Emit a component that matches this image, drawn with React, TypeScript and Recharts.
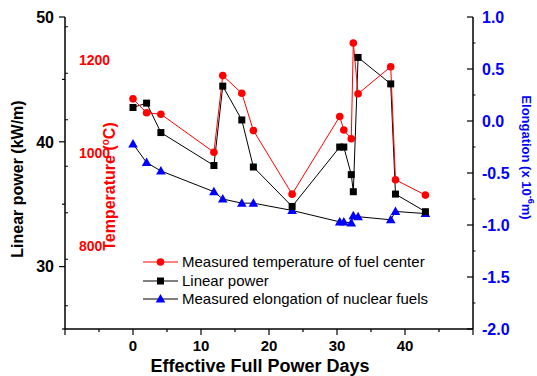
import React from 'react';
import { LineChart, Line, XAxis, YAxis } from 'recharts';

const days = [0, 2, 4.1, 11.9, 13.2, 16, 17.7, 23.4, 30.4, 31, 32.1, 32.4, 33.1, 37.9, 38.6, 43];
const temperature = [1145, 1115, 1112, 1030, 1195, 1157, 1077, 940, 1107, 1078, 1059, 1265, 1156, 1214, 971, 938];
const linearPower = [42.75, 43.1, 40.74, 38.1, 44.46, 41.75, 37.98, 34.82, 39.58, 39.58, 37.37, 36.0, 46.76, 44.64, 35.81, 34.4];
const elongation = [-0.22, -0.4, -0.48, -0.68, -0.75, -0.79, -0.79, -0.86, -0.97, -0.97, -0.98, -0.91, -0.92, -0.95, -0.87, -0.89];

const xTicks = [-10, -5, 0, 5, 10, 15, 20, 25, 30, 35, 40, 45, 50];
const xLabeled = [0, 10, 20, 30, 40];
const xMajor = [-10, 0, 10, 20, 30, 40, 50];
const powerTicks = [25, 30, 35, 40, 45, 50];
const powerLabeled = [30, 40, 50];
const tempTicks = [700, 800, 900, 1000, 1100, 1200, 1300];
const tempLabeled = [800, 1000, 1200];
const elongTicks = [-2, -1.75, -1.5, -1.25, -1, -0.75, -0.5, -0.25, 0, 0.25, 0.5, 0.75, 1];
const elongLabeled = [-2, -1.5, -1, -0.5, 0, 0.5, 1];

const legendItems = [
  { name: 'Measured temperature of fuel center', color: '#ff0000', line: '#ff0000', shape: 'circle' },
  { name: 'Linear power', color: '#000000', line: '#000000', shape: 'square' },
  { name: 'Measured elongation of nuclear fuels', color: '#0000ff', line: '#000000', shape: 'triangle' },
];

const data = days.map((d, i) => ({
  day: d,
  temp: temperature[i],
  power: linearPower[i],
  elong: elongation[i],
}));

const FONT = '"Liberation Sans", Arial, Helvetica, sans-serif';

const CircleDot = (props: any) => {
  const { cx, cy, index } = props;
  if (cx == null || cy == null) return <g key={index} />;
  return <circle key={index} cx={cx} cy={cy} r={3.8} fill="#ff0000" />;
};
const SquareDot = (props: any) => {
  const { cx, cy, index } = props;
  if (cx == null || cy == null) return <g key={index} />;
  return <rect key={index} x={cx - 3.5} y={cy - 3.5} width={7} height={7} fill="#000" />;
};
const TriDot = (props: any) => {
  const { cx, cy, index } = props;
  if (cx == null || cy == null) return <g key={index} />;
  return (
    <polygon
      key={index}
      points={`${cx},${cy - 5} ${cx - 4.8},${cy + 3.5} ${cx + 4.8},${cy + 3.5}`}
      fill="#0000ff"
    />
  );
};

const XTick = (props: any) => {
  const { x, y, payload } = props;
  const v = payload.value;
  const major = xMajor.includes(v);
  return (
    <g>
      <line x1={x} x2={x} y1={y} y2={y + (major ? 6 : 3)} stroke="#000" strokeWidth={1.2} />
      {xLabeled.includes(v) && (
        <text x={x} y={y + 17} dy="0.36em" textAnchor="middle" fontFamily={FONT} fontWeight="bold" fontSize={15} fill="#000">
          {v}
        </text>
      )}
    </g>
  );
};

const PowerTick = (props: any) => {
  const { x, y, payload } = props;
  const v = payload.value;
  const major = powerLabeled.includes(v);
  return (
    <g>
      <line x1={x} x2={x - (major ? 6 : 3)} y1={y} y2={y} stroke="#000" strokeWidth={1.2} />
      {major && (
        <text x={x - 11} y={y} dy="0.36em" textAnchor="end" fontFamily={FONT} fontWeight="bold" fontSize={16} fill="#000">
          {v}
        </text>
      )}
    </g>
  );
};

const TempTick = (props: any) => {
  const { y, payload } = props;
  const x = 65;
  const v = payload.value;
  return (
    <g>
      <line x1={x} x2={x + 3} y1={y} y2={y} stroke="#000" strokeWidth={1} />
      {tempLabeled.includes(v) && (
        <text x={x + 14} y={y - 13.4} dy="0.36em" textAnchor="start" fontFamily={FONT} fontWeight="bold" fontSize={14} fill="#ff0000">
          {v}
        </text>
      )}
    </g>
  );
};

const ElongTick = (props: any) => {
  const { x, y, payload } = props;
  const v = payload.value;
  const major = elongLabeled.includes(v);
  return (
    <g>
      {major ? (
        <line x1={x} x2={x - 6} y1={y} y2={y} stroke="#000" strokeWidth={1.2} />
      ) : (
        <line x1={x} x2={x + 2.5} y1={y} y2={y} stroke="#000" strokeWidth={1} />
      )}
      {major && (
        <text x={x + 9} y={y} dy="0.36em" textAnchor="start" fontFamily={FONT} fontWeight="bold" fontSize={16} fill="#0000ff">
          {v.toFixed(1)}
        </text>
      )}
    </g>
  );
};

const Legend = () => (
  <div style={{ position: 'absolute', left: 142, top: 253, fontFamily: FONT, fontSize: 15, color: '#000' }}>
    {legendItems.map((it) => (
      <div key={it.name} style={{ display: 'flex', alignItems: 'center', height: 18.5, whiteSpace: 'nowrap' }}>
        <svg width={37} height={18} style={{ display: 'block' }}>
          <line x1={1} x2={36} y1={9} y2={9} stroke={it.line} strokeWidth={1} />
          {it.shape === 'circle' && <circle cx={18.5} cy={9} r={3.8} fill={it.color} />}
          {it.shape === 'square' && <rect x={15} y={5.5} width={7} height={7} fill={it.color} />}
          {it.shape === 'triangle' && <polygon points="18.5,4 13.7,12.5 23.3,12.5" fill={it.color} />}
        </svg>
        <span style={{ marginLeft: 3, lineHeight: '18px' }}>{it.name}</span>
      </div>
    ))}
  </div>
);

export default function App() {
  return (
    <div style={{ position: 'absolute', left: 0, top: 0, width: 537, height: 376, background: '#fff' }}>
      <LineChart width={537} height={376} data={data} margin={{ top: 17, right: 0, bottom: 0, left: 0 }}>
        <XAxis
          xAxisId="top"
          orientation="top"
          dataKey="day"
          type="number"
          domain={[-10, 50]}
          height={0}
          tick={false}
          tickLine={false}
          axisLine={{ stroke: '#444', strokeWidth: 1 }}
        />
        <XAxis
          dataKey="day"
          type="number"
          domain={[-10, 50]}
          ticks={xTicks}
          interval={0}
          height={47}
          tickSize={0}
          tickMargin={0}
          tickLine={false}
          tick={XTick}
          axisLine={{ stroke: '#000', strokeWidth: 1.5 }}
          label={() => (
            <text x={260} y={366} dy="0.36em" textAnchor="middle" fontFamily={FONT} fontWeight="bold" fontSize={18} fill="#000">
              Effective Full Power Days
            </text>
          )}
        />
        <YAxis
          yAxisId="power"
          orientation="left"
          type="number"
          domain={[25, 50]}
          ticks={powerTicks}
          interval={0}
          width={65}
          tickSize={0}
          tickMargin={0}
          tickLine={false}
          tick={PowerTick}
          axisLine={{ stroke: '#000', strokeWidth: 1.5 }}
          label={() => (
            <text
              x={17}
              y={179}
              dy="0.36em"
              textAnchor="middle"
              transform="rotate(-90 17 179)"
              fontFamily={FONT}
              fontWeight="bold"
              fontSize={16}
              fill="#000"
            >
              Linear power (kW/m)
            </text>
          )}
        />
        <YAxis
          yAxisId="temp"
          orientation="left"
          mirror
          type="number"
          domain={[650, 1321]}
          ticks={tempTicks}
          interval={0}
          width={1}
          tickSize={0}
          tickMargin={0}
          tickLine={false}
          tick={TempTick}
          axisLine={false}
          label={() => (
            <text
              x={109}
              y={186.5}
              dy="0.36em"
              textAnchor="middle"
              transform="rotate(-90 109 186.5)"
              fontFamily={FONT}
              fontWeight="bold"
              fontSize={16}
              fill="#ff0000"
            >
              Temperature (
              <tspan dy={-6} fontSize={10}>o</tspan>
              <tspan dy={6}>C)</tspan>
            </text>
          )}
        />
        <YAxis
          yAxisId="elong"
          orientation="right"
          type="number"
          domain={[-2, 1]}
          ticks={elongTicks}
          interval={0}
          width={64}
          tickSize={0}
          tickMargin={0}
          tickLine={false}
          tick={ElongTick}
          axisLine={{ stroke: '#000', strokeWidth: 1.5 }}
          label={() => (
            <text
              x={527}
              y={157.5}
              dy="0.36em"
              textAnchor="middle"
              transform="rotate(90 527 157.5)"
              fontFamily={FONT}
              fontWeight="bold"
              fontSize={13}
              fill="#0000ff"
            >
              Elongation (x 10
              <tspan dy={-6} fontSize={9}>-6</tspan>
              <tspan dy={6}>m)</tspan>
            </text>
          )}
        />
        <Line
          yAxisId="elong"
          dataKey="elong"
          type="linear"
          stroke="#000"
          strokeWidth={1}
          dot={TriDot}
          activeDot={false}
          isAnimationActive={false}
        />
        <Line
          yAxisId="power"
          dataKey="power"
          type="linear"
          stroke="#000"
          strokeWidth={1}
          dot={SquareDot}
          activeDot={false}
          isAnimationActive={false}
        />
        <Line
          yAxisId="temp"
          dataKey="temp"
          type="linear"
          stroke="#ff0000"
          strokeWidth={1}
          dot={CircleDot}
          activeDot={false}
          isAnimationActive={false}
        />
      </LineChart>
      <Legend />
    </div>
  );
}
